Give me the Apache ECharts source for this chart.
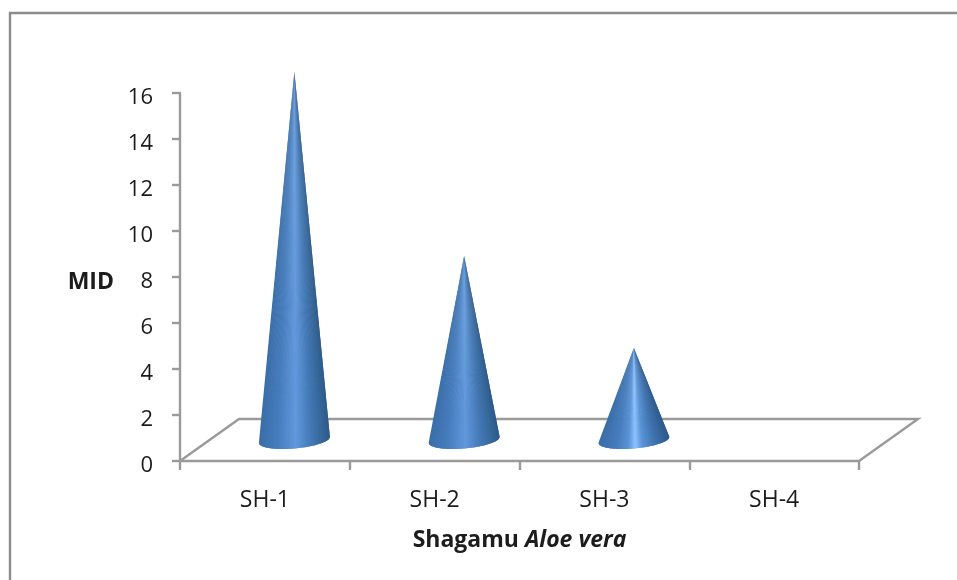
<!DOCTYPE html>
<html>
<head>
<meta charset="utf-8">
<style>html,body{margin:0;padding:0;background:#fff}#chart{width:957px;height:580px}</style>
<script src="https://cdn.jsdelivr.net/npm/echarts@6/dist/echarts.min.js"></script>
</head>
<body>
<div id="chart"></div>
<script>
// Mean inhibition diameter per Aloe vera sample
const categories = ['SH-1', 'SH-2', 'SH-3', 'SH-4'];
const midValues = [16, 8, 4, 0];
const yTicks = { min: 0, max: 16, interval: 2 };

// Pseudo-3D floor projection, in pixels
const DEPTH_X = 59, DEPTH_Y = 42;
const CONE_RX = 35.5, CONE_RY = 8.5, BASE_TILT = 3;
const CONE_SLICES = 90;
const FONT = '"Open Sans", sans-serif';
const AXIS_GREY = '#9a9a9a';
const TEXT = '#1c1c1c';

// Shading across a cone's surface: [position, colour]
const SHADE_TALL = [[0, '#3a6ea8'], [0.25, '#457cbd'], [0.52, '#6198dc'], [0.75, '#4277b4'], [0.92, '#346596'], [1, '#2e5a8c']];
const SHADE_SHORT = [[0, '#3a6ea8'], [0.25, '#457cbd'], [0.42, '#5a93d6'], [0.52, '#8cc2ff'], [0.62, '#5a93d6'], [0.8, '#3f74b0'], [1, '#2e5a8c']];

const chart = echarts.init(document.getElementById('chart'));

function shadeAt(stops, u) {
  for (let i = 1; i < stops.length; i++) {
    if (u <= stops[i][0]) {
      const t = (u - stops[i - 1][0]) / (stops[i][0] - stops[i - 1][0]);
      return echarts.color.lerp(t, [stops[i - 1][1], stops[i][1]]);
    }
  }
  return stops[stops.length - 1][1];
}

function renderFloor(params, api) {
  const n = categories.length;
  const a = api.coord([0, 0]);
  const bw = api.size([1, 0])[0];
  const x0 = a[0] - bw / 2, x1 = x0 + bw * n, y0 = a[1];
  return {
    type: 'polyline',
    shape: { points: [[x0, y0], [x0 + DEPTH_X, y0 - DEPTH_Y], [x1 + DEPTH_X, y0 - DEPTH_Y], [x1, y0]] },
    style: { fill: 'none', stroke: AXIS_GREY, lineWidth: 2.4 },
    silent: true
  };
}

// A cone is a fan of overlapping wedges painted left to right, so the
// shading narrows towards the apex and no seams show between slices
function renderCone(params, api) {
  const value = api.value(1);
  if (!value) return null;
  const top = api.coord([api.value(0), value]);
  const base = api.coord([api.value(0), 0]);
  const cx = base[0] + DEPTH_X / 2, cy = base[1] - DEPTH_Y / 2;
  const apex = [top[0] + DEPTH_X / 2, top[1] - DEPTH_Y / 2];
  const stops = value <= 4 ? SHADE_SHORT : SHADE_TALL;
  // Point on the front of the tilted base ellipse, s running from left to right
  const rim = (s) => {
    const c = 2 * s - 1;
    return [cx + CONE_RX * c, cy - BASE_TILT * c + CONE_RY * Math.sqrt(1 - c * c)];
  };
  const children = [];
  for (let i = 0; i < CONE_SLICES; i++) {
    const u0 = i / CONE_SLICES;
    const u1 = (i + 1) / CONE_SLICES;
    const u2 = Math.min(1, (i + 2) / CONE_SLICES);
    children.push({
      type: 'polygon',
      shape: { points: [apex, rim(u0), rim(u1), rim(u2)] },
      style: { fill: shadeAt(stops, (u0 + u1) / 2) }
    });
  }
  return { type: 'group', children };
}

chart.setOption({
  animation: false,
  backgroundColor: '#fff',
  grid: { left: 180, right: 98, top: 93, bottom: 119 },
  graphic: [{
    type: 'polyline',
    shape: { points: [[10, 580], [10, 13], [957, 13]] },
    style: { fill: 'none', stroke: '#8c8c8c', lineWidth: 2.4 },
    silent: true
  }],
  xAxis: {
    type: 'category',
    data: categories,
    axisLine: { lineStyle: { color: AXIS_GREY, width: 2.4 } },
    axisTick: { show: true, inside: false, length: 9, alignWithLabel: false, interval: 0, lineStyle: { color: AXIS_GREY, width: 2.4 } },
    axisLabel: { margin: 28, color: TEXT, fontFamily: FONT, fontSize: 23 },
    name: '{b|Shagamu }{i|Aloe vera}',
    nameLocation: 'middle',
    nameGap: 68,
    nameTextStyle: {
      rich: {
        b: { fontFamily: FONT, fontSize: 23, fontWeight: 'bold', color: TEXT },
        i: { fontFamily: FONT, fontSize: 23, fontWeight: 'bold', fontStyle: 'italic', color: TEXT }
      }
    }
  },
  yAxis: {
    type: 'value',
    min: yTicks.min,
    max: yTicks.max,
    interval: yTicks.interval,
    splitLine: { show: false },
    axisLine: { show: true, lineStyle: { color: AXIS_GREY, width: 2.4 } },
    axisTick: { show: true, length: 8, lineStyle: { color: AXIS_GREY, width: 2.4 } },
    axisLabel: { margin: 27, verticalAlign: 'top', lineHeight: 9, color: TEXT, fontFamily: FONT, fontSize: 22 },
    name: 'MID',
    nameLocation: 'middle',
    nameRotate: 0,
    nameGap: 66,
    nameTextStyle: { fontFamily: FONT, fontSize: 23, fontWeight: 'bold', color: TEXT, verticalAlign: 'top', lineHeight: 10 }
  },
  series: [
    { type: 'custom', renderItem: renderFloor, data: [[0, 0]], z: 1, silent: true, clip: false },
    {
      type: 'custom',
      renderItem: renderCone,
      clip: false,
      z: 2,
      encode: { x: 0, y: 1 },
      data: midValues.map((v, i) => [i, v])
    }
  ]
});
</script>
</body>
</html>
